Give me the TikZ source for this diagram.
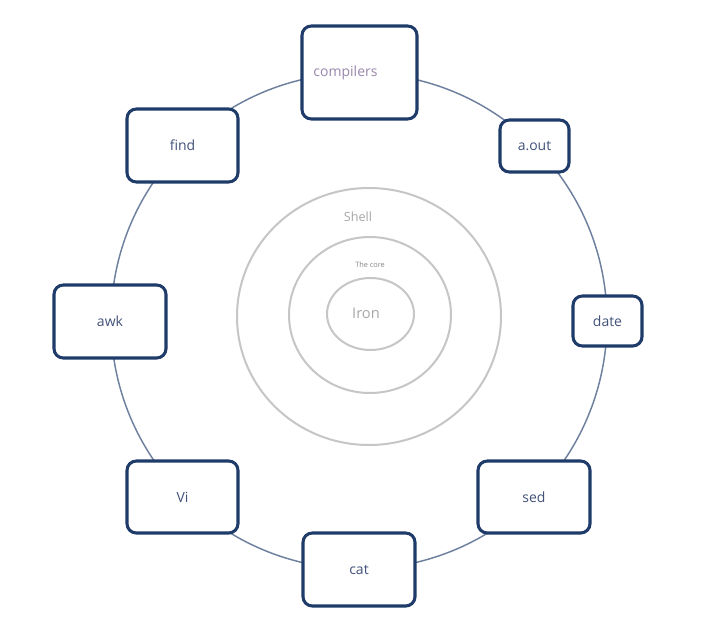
\documentclass[tikz,border=0pt]{standalone}
\usepackage{fontspec}
\setmainfont{Open Sans}
\begin{document}
\begin{tikzpicture}[x=0.75pt,y=-0.75pt,
  box/.style={draw=boxblue, line width=2.3pt, fill=white, rounded corners=7pt,
    inner sep=0pt, text=labelc, font=\fontsize{10.5}{12}\selectfont},
  ring/.style={draw=ringgray, line width=1.5pt},
]
\definecolor{boxblue}{HTML}{1F3B6A}
\definecolor{labelc}{HTML}{42527A}
\definecolor{circblue}{HTML}{6F809E}
\definecolor{ringgray}{HTML}{C6C6C6}
\definecolor{shelltext}{HTML}{A8A8A8}
\definecolor{compc}{HTML}{9A86AC}
\useasboundingbox (0,0) rectangle (706,617);
\fill[white] (0,0) rectangle (706,617);
% outer loop
\coordinate (ctr) at (359,321);
\draw[circblue, line width=1.1pt] (ctr) circle[radius=248*0.75pt];
% inner rings
\draw[ring] (369,316.5) ellipse[x radius=132*0.75pt, y radius=128.5*0.75pt];
\draw[ring] (370,315) ellipse[x radius=81*0.75pt, y radius=78*0.75pt];
\draw[ring] (370.5,314) ellipse[x radius=43.5*0.75pt, y radius=36*0.75pt];
\node[text=shelltext, font=\fontsize{9.5}{11}\selectfont] (shelllab) at (358,217) {Shell};
\node[text=shelltext!80!black, font=\fontsize{5.5}{6}\selectfont] (corelab) at (370,265) {The core};
\node[text=shelltext, font=\fontsize{11}{13}\selectfont] (ironlab) at (366,313) {Iron};
% boxes
\node[box, minimum width=115*0.75pt, minimum height=93*0.75pt,
  label={[xshift=-14*0.75pt, text=compc, font=\fontsize{10.5}{12}\selectfont]center:compilers}] (comp) at (359.5,72.5) {};
\node[box, minimum width=111*0.75pt, minimum height=73*0.75pt] (find) at (182.5,145.5) {find};
\node[box, minimum width=69*0.75pt, minimum height=52*0.75pt] (aout) at (534.5,146) {a.out};
\node[box, minimum width=112*0.75pt, minimum height=73*0.75pt] (awk) at (110,321.5) {awk};
\node[box, minimum width=69*0.75pt, minimum height=50*0.75pt] (date) at (607.5,321) {date};
\node[box, minimum width=111*0.75pt, minimum height=72*0.75pt] (vi) at (182.5,497) {Vi};
\node[box, minimum width=112*0.75pt, minimum height=73*0.75pt] (cat) at (359,569.5) {cat};
\node[box, minimum width=112*0.75pt, minimum height=72*0.75pt] (sed) at (534,497) {sed};
\end{tikzpicture}
\end{document}
